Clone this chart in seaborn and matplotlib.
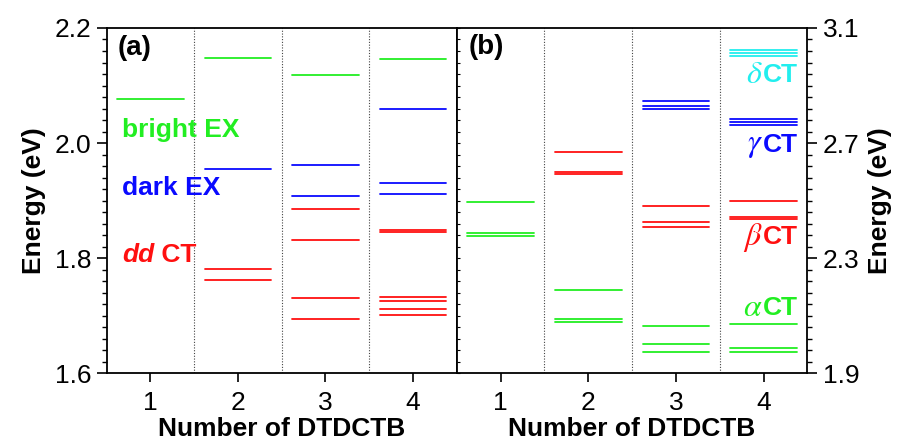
import numpy as np
import pandas as pd
import matplotlib
matplotlib.use("Agg")
import matplotlib.pyplot as plt
from matplotlib.ticker import MultipleLocator, FixedLocator, FormatStrFormatter
import seaborn as sns

# ---------------- data ----------------
categories = [1, 2, 3, 4]

# panel (a)
bright_a_n = [1, 2, 3, 4]
bright_a_E = [2.077, 2.148, 2.118, 2.146]
dark_a_n = [2, 3, 3, 4, 4, 4]
dark_a_E = [1.955, 1.962, 1.908, 2.059, 1.930, 1.911]
ddct_a_n = [2, 2, 3, 3, 3, 3, 4, 4, 4, 4, 4, 4]
ddct_a_E = [1.781, 1.762, 1.886, 1.831, 1.731, 1.694,
            1.849, 1.846, 1.733, 1.726, 1.711, 1.702]

# panel (b)
alpha_n = [1, 1, 1, 2, 2, 2, 3, 3, 3, 4, 4, 4]
alpha_E = [2.496, 2.388, 2.378, 2.190, 2.090, 2.079,
           2.065, 2.003, 1.973, 2.070, 1.988, 1.974]
beta_n = [2, 2, 2, 3, 3, 3, 4, 4, 4]
beta_E = [2.669, 2.600, 2.593, 2.482, 2.425, 2.407, 2.498, 2.442, 2.435]
gamma_n = [3, 3, 3, 4, 4, 4]
gamma_E = [2.846, 2.829, 2.817, 2.783, 2.774, 2.764]
delta_n = [4, 4, 4]
delta_E = [3.023, 3.014, 3.003]

ylim_a = (1.6, 2.2)
ylim_b = (1.9, 3.1)
yticks_a = [1.6, 1.8, 2.0, 2.2]
yticks_b = [1.9, 2.3, 2.7, 3.1]
xlabel = "Number of DTDCTB"
ylabel = "Energy (eV)"

GREEN = "#22ee22"
BLUE = "#0a0aff"
RED = "#ff1010"
CYAN = "#22eeee"
HALF = 0.38


def level_frame(groups):
    rows = []
    uid = 0
    for kind, ns, Es in groups:
        for n, e in zip(ns, Es):
            for x in (n - HALF, n + HALF):
                rows.append(dict(kind=kind, x=x, E=e, uid=uid))
            uid += 1
    return pd.DataFrame(rows)


df_a = level_frame([("bright", bright_a_n, bright_a_E),
                    ("dark", dark_a_n, dark_a_E),
                    ("dd", ddct_a_n, ddct_a_E)])
df_b = level_frame([("alpha", alpha_n, alpha_E),
                    ("beta", beta_n, beta_E),
                    ("gamma", gamma_n, gamma_E),
                    ("delta", delta_n, delta_E)])

sns.set_theme(style="ticks")
plt.rcParams["font.family"] = ["Liberation Sans", "DejaVu Sans"]
plt.rcParams["mathtext.fontset"] = "stix"
plt.rcParams["axes.linewidth"] = 1.3
for k in ("text.color", "axes.labelcolor", "xtick.color", "ytick.color",
          "axes.edgecolor"):
    plt.rcParams[k] = "black"

fig = plt.figure(figsize=(9.03, 4.47), dpi=100)
L = 0.1182
W = 0.3876
B = 0.1649
H = 0.7725
axa = fig.add_axes([L, B, W, H])
axb = fig.add_axes([L + W, B, 0.3883, H])

sns.lineplot(data=df_a, x="x", y="E", hue="kind", units="uid", estimator=None,
             palette={"bright": GREEN, "dark": BLUE, "dd": RED},
             lw=1.3, legend=False, ax=axa, sort=False)
sns.lineplot(data=df_b, x="x", y="E", hue="kind", units="uid", estimator=None,
             palette={"alpha": GREEN, "beta": RED, "gamma": BLUE, "delta": CYAN},
             lw=1.3, legend=False, ax=axb, sort=False)

TICK = 19
for ax, ylim, yt in ((axa, ylim_a, yticks_a), (axb, ylim_b, yticks_b)):
    ax.set_xlim(0.5, 4.5)
    ax.set_ylim(*ylim)
    ax.set_xticks(categories)
    ax.set_xticklabels([str(c) for c in categories])
    ax.yaxis.set_major_locator(FixedLocator(yt))
    step = (yt[1] - yt[0]) / 10
    ax.yaxis.set_minor_locator(FixedLocator(
        np.round(np.arange(yt[0], yt[-1] + step / 2, step), 4)))
    ax.yaxis.set_major_formatter(FormatStrFormatter("%.1f"))
    for xv in (1.5, 2.5, 3.5):
        ax.axvline(xv, color="#444444", lw=0.8, ls=(0, (1, 1.5)), zorder=0)
    for s in ax.spines.values():
        s.set_visible(True)
        s.set_linewidth(1.3)
        s.set_color("black")
    ax.tick_params(axis="x", which="major", direction="out", length=6.5,
                   width=1.2, labelsize=TICK, pad=6, color="black")
    ax.tick_params(axis="x", which="minor", bottom=False)
    ax.set_xlabel(xlabel, fontsize=19, fontweight="bold", labelpad=2)
    ax.set_ylabel("")

axa.tick_params(axis="y", which="major", direction="out", length=7, width=1.2,
                labelsize=TICK, color="black", pad=4)
axa.tick_params(axis="y", which="minor", direction="out", length=3.6, width=1.0,
                color="black")
axa.set_ylabel(ylabel, fontsize=19, fontweight="bold", labelpad=6)

axb.yaxis.tick_right()
axb.yaxis.set_label_position("right")
axb.tick_params(axis="y", which="major", direction="out", length=7, width=1.2,
                labelsize=TICK, color="black", pad=4, left=False, right=True)
axb.tick_params(axis="y", which="minor", direction="out", length=3.6, width=1.0,
                color="black", left=False, right=True)
axb.set_ylabel(ylabel, fontsize=19, fontweight="bold", labelpad=6)

sec = axb.secondary_yaxis("left")
sec.yaxis.set_major_locator(FixedLocator(
    np.round(np.arange(yticks_b[0], yticks_b[-1] + 0.02, 0.04), 4)))
sec.tick_params(axis="y", which="major", direction="in", length=2, width=0.8,
                labelleft=False, color="black")
sec.spines["left"].set_visible(False)

# panel labels
LBL = 19
axa.text(0.63, 2.166, "(a)", fontsize=LBL + 1, fontweight="bold", va="center",
         ha="left")
axb.text(0.63, 3.033, "(b)", fontsize=LBL + 1, fontweight="bold", va="center",
         ha="left")

# panel (a) annotations
axa.text(0.675, 2.023, "bright EX", color=GREEN, fontsize=LBL, fontweight="bold",
         va="center", ha="left")
axa.text(0.675, 1.922, "dark EX", color=BLUE, fontsize=LBL, fontweight="bold",
         va="center", ha="left")
t_dd = axa.text(0.675, 1.805, "dd", color=RED, fontsize=LBL, fontweight="bold",
                style="italic", va="center", ha="left")
axa.annotate(" CT", xy=(1, 0.5), xycoords=t_dd, color=RED, fontsize=LBL,
             fontweight="bold", va="center", ha="left")

# panel (b) annotations
for E, sym, col in ((2.937, r"$\delta$", CYAN), (2.693, r"$\gamma$", BLUE),
                    (2.373, r"$\beta$", RED), (2.126, r"$\alpha$", GREEN)):
    t = axb.text(4.39, E, "CT", color=col, fontsize=LBL, fontweight="bold",
                 va="center", ha="right")
    axb.annotate(sym, xy=(0, 0.5), xycoords=t, color=col, fontsize=LBL + 4,
                 va="center", ha="right")

fig.savefig("out.png", dpi=100)
